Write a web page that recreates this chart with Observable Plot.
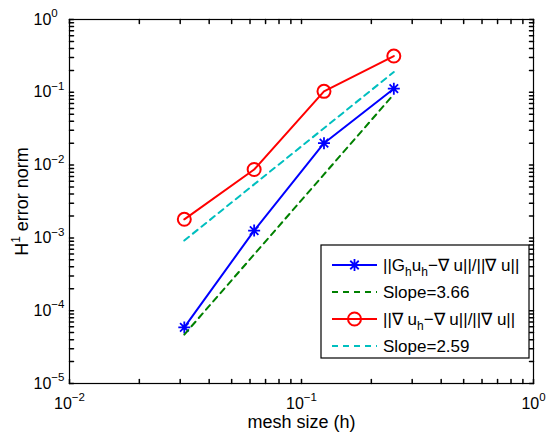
<!DOCTYPE html>
<html><head><meta charset="utf-8">
<script src="https://cdn.jsdelivr.net/npm/d3@7"></script>
<script src="https://cdn.jsdelivr.net/npm/@observablehq/plot@0.6"></script>
<style>
body{margin:0;background:#fff}
svg{font-family:"Liberation Sans",Arial,Helvetica,sans-serif}
</style>
</head><body><div id="chart"></div>
<script>
// ---- data ----
const meshSize = [0.03125, 0.0625, 0.125, 0.25];
const recoveredError = [5.9e-5, 1.26e-3, 2.0e-2, 0.112];
const directError = [1.8e-3, 8.7e-3, 0.103, 0.315];
const fitX = [0.03125, 0.25];
const fitRecovered = [4.7e-5, 0.094];
const fitDirect = [9.2e-4, 0.19];
const xTickValues = [0.01, 0.1, 1];
const xTickLabels = ["10^-2", "10^-1", "10^0"];
const yTickValues = [1e-5, 1e-4, 1e-3, 1e-2, 1e-1, 1];
const yTickLabels = ["10^-5", "10^-4", "10^-3", "10^-2", "10^-1", "10^0"];
const xLabel = "mesh size (h)";
const yLabel = ["H", "1", " error norm"];
const seriesColors = ["#0000ff", "#008000", "#ff0000", "#00bfbf"];

const xMinor = d3.scaleLog().domain([0.01, 1]).ticks();
const yMinor = d3.scaleLog().domain([1e-5, 1]).ticks();
const tickShape = {draw(context, l) { context.moveTo(0, 0); context.lineTo(0, -l); }};
const starSymbol = {draw(context, size) {
  const r = Math.sqrt(size / Math.PI), d = r * Math.SQRT1_2;
  context.moveTo(-r, 0); context.lineTo(r, 0);
  context.moveTo(0, -r); context.lineTo(0, r);
  context.moveTo(-d, -d); context.lineTo(d, d);
  context.moveTo(-d, d); context.lineTo(d, -d);
}};
const idx4 = d3.range(meshSize.length);
const idx2 = d3.range(fitX.length);
const tickLen = 4;

const plot = Plot.plot({
  width: 546, height: 439,
  marginLeft: 69, marginRight: 13, marginTop: 19, marginBottom: 56,
  x: {type: "log", domain: [0.01, 1], axis: null},
  y: {type: "log", domain: [1e-5, 1], axis: null},
  style: {background: "white", fontFamily: '"Liberation Sans",Arial,sans-serif'},
  marks: [
    // inward ticks on all four sides
    Plot.vector(xMinor, {x: d => d, y: () => 1e-5, length: tickLen, rotate: 0, anchor: "start", shape: tickShape, stroke: "black"}),
    Plot.vector(xMinor, {x: d => d, y: () => 1, length: tickLen, rotate: 180, anchor: "start", shape: tickShape, stroke: "black"}),
    Plot.vector(yMinor, {y: d => d, x: () => 0.01, length: tickLen, rotate: 90, anchor: "start", shape: tickShape, stroke: "black"}),
    Plot.vector(yMinor, {y: d => d, x: () => 1, length: tickLen, rotate: 270, anchor: "start", shape: tickShape, stroke: "black"}),
    // series
    Plot.line(idx4, {x: i => meshSize[i], y: i => recoveredError[i], stroke: seriesColors[0], strokeWidth: 2}),
    Plot.dot(idx4, {x: i => meshSize[i], y: i => recoveredError[i], stroke: seriesColors[0], strokeWidth: 1.8, symbol: starSymbol, r: 6}),
    Plot.line(idx2, {x: i => fitX[i], y: i => fitRecovered[i], stroke: seriesColors[1], strokeWidth: 2, strokeDasharray: "6,5"}),
    Plot.line(idx4, {x: i => meshSize[i], y: i => directError[i], stroke: seriesColors[2], strokeWidth: 2}),
    Plot.dot(idx4, {x: i => meshSize[i], y: i => directError[i], stroke: seriesColors[2], strokeWidth: 2, r: 6.5, fill: "none"}),
    Plot.line(idx2, {x: i => fitX[i], y: i => fitDirect[i], stroke: seriesColors[3], strokeWidth: 2, strokeDasharray: "6,5"}),
    Plot.frame({stroke: "black", strokeWidth: 1.2}),
    // tick labels
    Plot.text(xTickLabels, {x: xTickValues, frameAnchor: "bottom", dy: 25, lineAnchor: "bottom", textAnchor: "middle", fontSize: 16, fill: "black", className: "xtl"}),
    Plot.text(yTickLabels, {y: yTickValues, frameAnchor: "left", dx: -36, lineAnchor: "middle", textAnchor: "start", fontSize: 16, fill: "black", className: "ytl"}),
    // axis labels
    Plot.text([xLabel], {frameAnchor: "bottom", dy: 44, lineAnchor: "bottom", textAnchor: "middle", fontSize: 18, fill: "black"}),
    Plot.text([yLabel.join("")], {frameAnchor: "left", dx: -42, rotate: -90, lineAnchor: "bottom", textAnchor: "middle", fontSize: 18, fill: "black", className: "ylab"})
  ]
});

function supify(nodes, supSize, raise) {
  nodes.forEach(node => {
    const t = d3.select(node);
    const m = t.text().match(/^(.*)\^(.*)$/);
    if (!m) return;
    t.text(null);
    t.append("tspan").text(m[1]);
    t.append("tspan").attr("dy", -raise).attr("font-size", supSize).text(m[2].replace("-", "\u2212"));
  });
}
supify(plot.querySelectorAll("g.xtl text"), 11.5, 8);
supify(plot.querySelectorAll("g.ytl text"), 11.5, 7.5);
plot.querySelectorAll("g.ylab text").forEach(node => {
  const t = d3.select(node);
  t.text(null);
  t.append("tspan").text(yLabel[0]);
  t.append("tspan").attr("dy", -8).attr("font-size", 12).text(yLabel[1]);
  t.append("tspan").attr("dy", 8).text(yLabel[2]);
});

// legend (box inside the axes, lower right)
const legendEntries = [
  {parts: [["||G"], ["h", "sub"], ["u"], ["h", "sub"], ["\u2212\u2207 u||/||\u2207 u||"]], color: seriesColors[0], dash: null, marker: "star"},
  {parts: [["Slope=3.66"]], color: seriesColors[1], dash: "6,5", marker: null},
  {parts: [["||\u2207 u"], ["h", "sub"], ["\u2212\u2207 u||/||\u2207 u||"]], color: seriesColors[2], dash: null, marker: "circle"},
  {parts: [["Slope=2.59"]], color: seriesColors[3], dash: "6,5", marker: null}
];
const svg = d3.select(plot);
const lg = svg.append("g").attr("class", "legend").attr("text-anchor", "start");
const bx = 321, by = 245, bw = 208, bh = 113, rowH = 27, row0 = 265;
lg.append("rect").attr("x", bx).attr("y", by).attr("width", bw).attr("height", bh)
  .attr("fill", "white").attr("stroke", "black").attr("stroke-width", 1.2);
legendEntries.forEach((e, k) => {
  const cy = row0 + k * rowH;
  lg.append("line").attr("x1", 332).attr("x2", 377).attr("y1", cy).attr("y2", cy)
    .attr("stroke", e.color).attr("stroke-width", 2).attr("stroke-dasharray", e.dash);
  if (e.marker === "circle") {
    lg.append("circle").attr("cx", 354.5).attr("cy", cy).attr("r", 6.5).attr("fill", "none").attr("stroke", e.color).attr("stroke-width", 2);
  } else if (e.marker === "star") {
    lg.append("path").attr("transform", `translate(354.5,${cy})`).attr("d", d3.symbol(starSymbol, Math.PI * 36)()).attr("stroke", e.color).attr("stroke-width", 1.8).attr("fill", "none");
  }
  const tx = lg.append("text").attr("x", 383).attr("y", cy + 6).attr("font-size", 17).attr("fill", "black").attr("text-anchor", "start");
  let shifted = false;
  e.parts.forEach(([s, kind]) => {
    const ts = tx.append("tspan").text(s);
    if (kind === "sub") { ts.attr("dy", 5).attr("font-size", 12); shifted = true; }
    else if (shifted) { ts.attr("dy", -5); shifted = false; }
  });
});

document.getElementById("chart").appendChild(plot);
</script>
</body></html>
